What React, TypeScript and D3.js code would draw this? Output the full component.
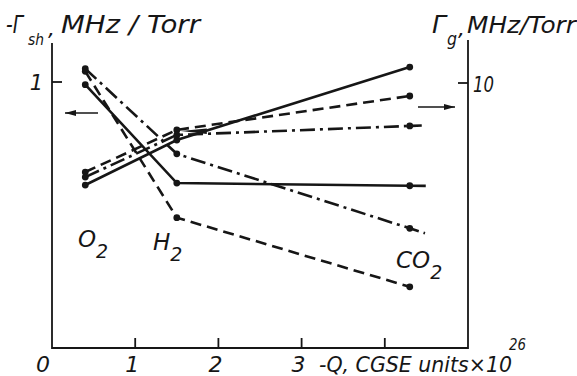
import { useEffect, useRef } from 'react'
import * as d3 from 'd3'

// gases and their charge (-Q, CGSE units x 10^26)
const gases = ['O', 'H', 'CO']
const charge = [0.4, 1.5, 4.3]

// -Γsh, MHz/Torr (left axis)
const shiftSolid = [0.99, 0.62, 0.61]
const shiftDashed = [1.04, 0.49, 0.23]
const shiftDashDot = [1.05, 0.73, 0.45]

// Γg, MHz/Torr (right axis)
const broadSolid = [6.15, 7.85, 10.6]
const broadDashed = [6.64, 8.23, 9.51]
const broadDashDot = [6.45, 8.04, 8.38]

const xTicks = [1, 2, 3, 4]
const xTickLabels = ['0', '1', '2', '3']

const W = 577
const H = 376
const INK = '#161616'
const FONT = '"DejaVu Sans", sans-serif'

export default function App() {
  const ref = useRef<SVGSVGElement>(null)

  useEffect(() => {
    if (!ref.current) return
    const svg = d3.select(ref.current)
    svg.selectAll('*').remove()

    const x = d3.scaleLinear().domain([0, 5]).range([52, 468])
    const yL = d3.scaleLinear().domain([0, 1]).range([348, 82])
    const yR = d3.scaleLinear().domain([0, 10]).range([348, 83])

    const dashed = '11,6'
    const dashDot = '15,5,3,5'

    const series = [
      { vals: shiftSolid, y: yL, dash: null, tail: 16 },
      { vals: shiftDashed, y: yL, dash: dashed, tail: 0 },
      { vals: shiftDashDot, y: yL, dash: dashDot, tail: 16 },
      { vals: broadSolid, y: yR, dash: null, tail: 0 },
      { vals: broadDashed, y: yR, dash: dashed, tail: 0 },
      { vals: broadDashDot, y: yR, dash: dashDot, tail: 12 },
    ]

    const g = svg.append('g')

    // axes frame
    g.append('path')
      .attr('d', `M${x(0)},43 V${yL(0)} H${x(5)} V40`)
      .attr('fill', 'none').attr('stroke', INK).attr('stroke-width', 1.8)

    xTicks.forEach(t => {
      g.append('line')
        .attr('x1', x(t)).attr('x2', x(t))
        .attr('y1', yL(0)).attr('y2', yL(0) - 10)
        .attr('stroke', INK).attr('stroke-width', 1.8)
    })
    g.append('line')
      .attr('x1', x(0)).attr('x2', x(0) + 10)
      .attr('y1', yL(1)).attr('y2', yL(1))
      .attr('stroke', INK).attr('stroke-width', 1.8)
    g.append('line')
      .attr('x1', x(5) - 10).attr('x2', x(5))
      .attr('y1', yR(10)).attr('y2', yR(10))
      .attr('stroke', INK).attr('stroke-width', 1.8)

    // curves
    series.forEach(s => {
      const pts: [number, number][] = s.vals.map((v, i) => [x(charge[i]), s.y(v)])
      if (s.tail) {
        const [ax, ay] = pts[pts.length - 2]
        const [bx, by] = pts[pts.length - 1]
        const len = Math.hypot(bx - ax, by - ay)
        pts.push([bx + (bx - ax) / len * s.tail, by + (by - ay) / len * s.tail])
      }
      g.append('path')
        .attr('d', d3.line()(pts) as string)
        .attr('fill', 'none')
        .attr('stroke', INK)
        .attr('stroke-width', 2.6)
        .attr('stroke-dasharray', s.dash)
      s.vals.forEach((v, i) => {
        g.append('circle')
          .attr('cx', x(charge[i])).attr('cy', s.y(v))
          .attr('r', 3.4).attr('fill', INK)
      })
    })

    // small wedge near H2 where the broadening curves meet
    g.append('path')
      .attr('d', `M${x(1.5) + 4},131 L${x(1.5) + 30},128.5 L${x(1.5) + 30},134 Z`)
      .attr('fill', INK)

    // arrows pointing to the axes
    const arrow = (x1: number, x2: number, yy: number) => {
      g.append('line')
        .attr('x1', x1).attr('x2', x2).attr('y1', yy).attr('y2', yy)
        .attr('stroke', INK).attr('stroke-width', 1.6)
      const d = x2 > x1 ? -1 : 1
      g.append('path')
        .attr('d', `M${x2},${yy} L${x2 + d * 11},${yy - 3} L${x2 + d * 11},${yy + 3} Z`)
        .attr('fill', INK)
    }
    arrow(98, 65, 113)
    arrow(418, 455, 107)

    const txt = (tx: number, ty: number, s: string, size: number, len?: number, anchor = 'start') => {
      const t = g.append('text')
        .attr('x', tx).attr('y', ty)
        .attr('font-family', FONT)
        .attr('font-style', 'italic')
        .attr('font-size', size)
        .attr('fill', INK)
        .attr('text-anchor', anchor)
        .text(s)
      if (len) t.attr('textLength', len).attr('lengthAdjust', 'spacingAndGlyphs')
      return t
    }

    // left title
    txt(6, 33, '-Γ', 24, 17)
    txt(28, 45, 'sh', 16, 16)
    txt(48, 36, ',', 22)
    txt(61, 33, 'MHz / Torr', 24, 139)

    // right title
    txt(432, 33, 'Γ', 24, 14)
    txt(447, 45, 'g', 17, 10)
    txt(458, 36, ',', 22)
    txt(467, 33, 'MHz/Torr', 23, 109)

    // axis tick labels
    txt(43, 90, '1', 21, undefined, 'end')
    txt(473, 92, '10', 21, 21)
    xTickLabels.forEach((l, i) => {
      txt(x(i) - (i === 0 ? 9 : 3), 372, l, 22, undefined, 'middle')
    })
    txt(319, 372, '-Q, CGSE units×10', 22, 193)
    txt(509, 350, '26', 15, 17)

    // gas labels
    const gasPos = [[78, 247], [153, 250], [396, 268]]
    gases.forEach((name, i) => {
      const t = txt(gasPos[i][0], gasPos[i][1], '', 23)
      t.append('tspan').text(name)
      t.append('tspan').attr('dy', 11).attr('font-size', 19).text('2')
    })
  }, [])

  return (
    <svg
      ref={ref}
      width={W}
      height={H}
      style={{ position: 'absolute', left: 0, top: 0, background: '#fff', display: 'block' }}
    />
  )
}
